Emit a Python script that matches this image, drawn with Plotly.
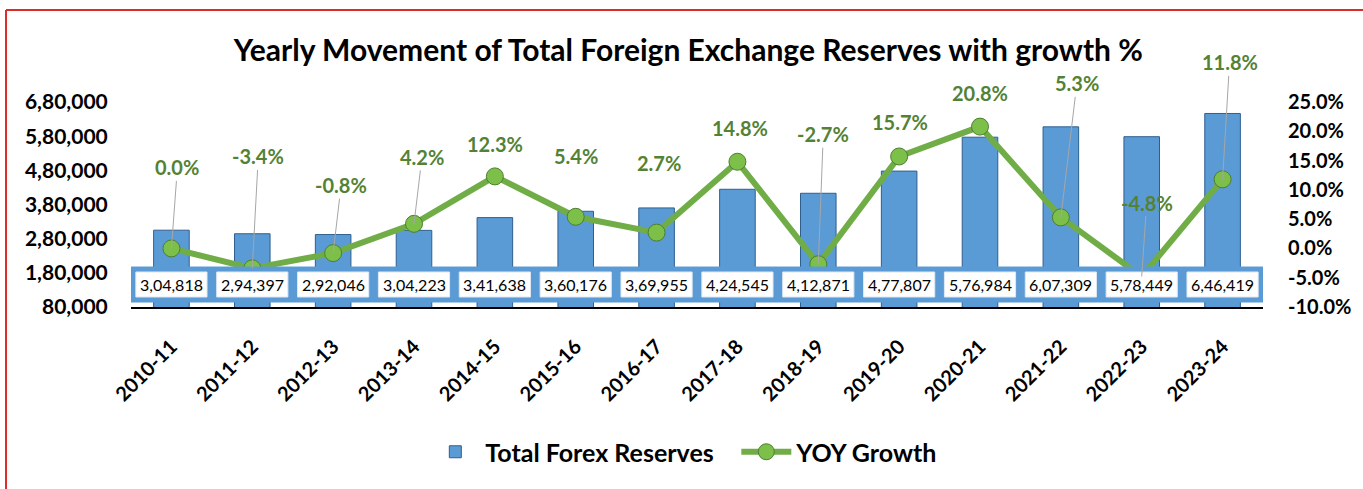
import plotly.graph_objects as go

categories = ['2010-11', '2011-12', '2012-13', '2013-14', '2014-15', '2015-16', '2016-17',
              '2017-18', '2018-19', '2019-20', '2020-21', '2021-22', '2022-23', '2023-24']
reserves = [304818, 294397, 292046, 304223, 341638, 360176, 369955,
            424545, 412871, 477807, 576984, 607309, 578449, 646419]
reserve_labels = ['3,04,818', '2,94,397', '2,92,046', '3,04,223', '3,41,638', '3,60,176', '3,69,955',
                  '4,24,545', '4,12,871', '4,77,807', '5,76,984', '6,07,309', '5,78,449', '6,46,419']
growth = [0.0, -3.4, -0.8, 4.2, 12.3, 5.4, 2.7, 14.8, -2.7, 15.7, 20.8, 5.3, -4.8, 11.8]

left_ticks = [80000, 180000, 280000, 380000, 480000, 580000, 680000]
left_tick_text = ['80,000', '1,80,000', '2,80,000', '3,80,000', '4,80,000', '5,80,000', '6,80,000']
right_ticks = [-10, -5, 0, 5, 10, 15, 20, 25]
right_tick_text = ['-10.0%', '-5.0%', '0.0%', '5.0%', '10.0%', '15.0%', '20.0%', '25.0%']

# label placement (pixel offsets of label from its point) and leader visibility
label_dx = [6, 6, 8, 8, 0, 0, 2, 3, 5, 1, 0, 16, 5, 7]
label_dy = [-81, -112, -68, -67, -32, -61, -70, -34, -130, -34, -34, -134, -74, -117]
leader = [True, True, True, True, False, False, False, False, True, False, False, True, True, True]

FONT = "Lato"
GREEN = "#70ad47"
DKGREEN = "#548235"
BLUE = "#5b9bd5"

fig = go.Figure()
fig.add_trace(go.Bar(
    x=categories, y=reserves, name="Total Forex Reserves",
    marker=dict(color=BLUE, line=dict(color="#2f5f8f", width=1)),
    width=0.44, yaxis="y",
))
fig.add_trace(go.Scatter(
    x=categories, y=growth, name="YOY Growth", mode="lines+markers",
    line=dict(color=GREEN, width=6),
    marker=dict(size=17, color="#7cc04a", line=dict(color="#4e7d2f", width=1)),
    yaxis="y2",
))

shapes = []
# data table band
shapes.append(dict(type="rect", xref="x", yref="y", x0=-0.5, x1=len(categories) - 0.5,
                   y0=94600, y1=197000, fillcolor=BLUE, line=dict(color=BLUE, width=1),
                   layer="above"))
annotations = []
for i, (c, lab) in enumerate(zip(categories, reserve_labels)):
    shapes.append(dict(type="rect", xref="x", yref="y", x0=i - 0.44, x1=i + 0.44,
                       y0=109300, y1=182400, fillcolor="white",
                       line=dict(color="#dfe9f5", width=1), layer="above"))
    annotations.append(dict(x=i, y=(109300 + 182400) / 2, xref="x", yref="y", text=lab,
                            showarrow=False, font=dict(family=FONT, size=16, color="black")))

for i, (c, g) in enumerate(zip(categories, growth)):
    annotations.append(dict(
        x=i, y=g, xref="x", yref="y2", text=f"{g:.1f}%",
        showarrow=True, arrowhead=0, arrowwidth=1,
        arrowcolor="#a6a6a6" if leader[i] else "rgba(0,0,0,0)",
        ax=label_dx[i], ay=label_dy[i], standoff=0,
        font=dict(family=FONT, size=20, color=DKGREEN, weight="bold"),
    ))

# outer red frame
shapes.append(dict(type="line", xref="paper", yref="paper", x0=-0.1104, x1=-0.1104,
                   y0=1.4488, y1=-0.9, line=dict(color="#dd2b2b", width=2)))
shapes.append(dict(type="line", xref="paper", yref="paper", x0=-0.1104, x1=1.3,
                   y0=1.4488, y1=1.4488, line=dict(color="#dd2b2b", width=2)))

fig.update_layout(
    width=1363, height=489,
    margin=dict(l=131, r=95, t=102, b=182),
    paper_bgcolor="white", plot_bgcolor="white",
    font=dict(family=FONT, color="black"),
    title=dict(text="<b>Yearly Movement of Total Foreign Exchange Reserves with growth %</b>",
               x=0.505, xanchor="center", y=1 - 50 / 489, yanchor="middle", yref="container",
               font=dict(family=FONT, size=30, color="black")),
    xaxis=dict(type="category", showgrid=False, showline=True, linecolor="black", linewidth=2,
               tickangle=-45, tickfont=dict(family=FONT, size=20, color="black", weight="bold"),
               ticks="outside", ticklen=18, tickcolor="rgba(0,0,0,0)",
               range=[-0.5, len(categories) - 0.5]),
    yaxis=dict(range=[80000, 680000], tickvals=left_ticks, ticktext=left_tick_text,
               showgrid=False, zeroline=False, ticks="outside", ticklen=18,
               tickcolor="rgba(0,0,0,0)",
               tickfont=dict(family=FONT, size=21, color="black", weight="bold")),
    yaxis2=dict(range=[-10, 25], tickvals=right_ticks, ticktext=right_tick_text,
                overlaying="y", side="right", showgrid=False, zeroline=False,
                ticks="outside", ticklen=20, tickcolor="rgba(0,0,0,0)",
                tickfont=dict(family=FONT, size=20, color="black", weight="bold")),
    legend=dict(orientation="h", x=0.26, xanchor="left", yref="container",
                y=1 - 452 / 489, yanchor="middle",
                font=dict(family=FONT, size=25, color="black", weight="bold"),
                itemwidth=50, entrywidth=246, entrywidthmode="pixels"),
    shapes=shapes, annotations=annotations,
    showlegend=True,
)

fig.write_html("out.html", config={"displayModeBar": False},
               post_script="document.body.style.margin='0';")
